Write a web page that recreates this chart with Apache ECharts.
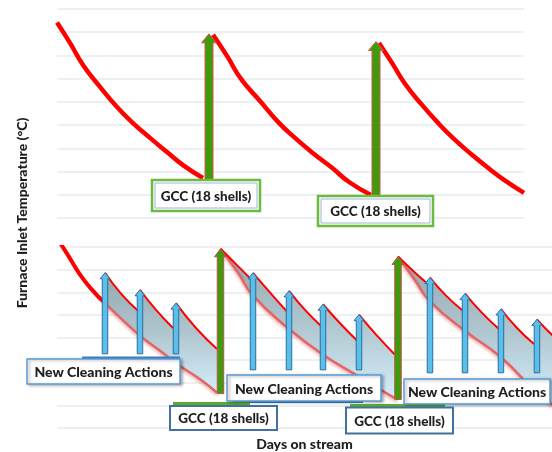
<!DOCTYPE html>
<html>
<head>
<meta charset="utf-8">
<style>html,body{margin:0;padding:0;background:#fff}#c{width:552px;height:452px}</style>
<script src="https://cdn.jsdelivr.net/npm/echarts@6/dist/echarts.min.js"></script>
</head>
<body>
<div id="c"></div>
<script>
// ---- Top panel (no cleaning, only GCC) ----
const topCurve1 = [[0,8.42],[2.78,7.54],[5.57,6.59],[9.21,5.65],[12.85,4.78],[16.27,4.09],[19.91,3.45],[23.55,2.84],[26.98,2.28],[31.26,1.72]];
const topCurve2 = [[33.40,7.89],[36.40,6.98],[39.40,5.99],[43.47,5.04],[47.32,4.14],[50.96,3.45],[55.03,2.76],[58.89,2.16],[62.53,1.55],[67.24,0.99]];
const topCurve3 = [[68.95,7.54],[71.73,6.68],[74.52,5.78],[78.16,4.87],[81.80,4.05],[85.22,3.36],[88.65,2.76],[92.29,2.16],[95.72,1.64],[100,1.08]];
const topGCC = [[32.55,1.64,7.93],[68.31,0.99,7.60]]; // [day, from, to]

// ---- Bottom panel (GCC + new cleaning actions) ----
const botStart = [[0,8.39],[2.14,7.71],[4.93,6.78],[7.71,6.06],[9.85,5.60]];
const upperA = [
  [[10.28,6.86],[13.70,5.94],[17.34,5.18]],
  [[17.77,6.11],[21.20,5.22],[24.84,4.42]],
  [[25.48,5.52],[29.76,4.42],[34.26,3.49]]
];
const upperB = [
  [[35.01,7.92],[38.54,7.20],[41.76,6.53]],
  [[41.97,6.86],[45.82,5.94],[49.25,5.14]],
  [[49.68,6.06],[53.10,5.22],[56.53,4.51]],
  [[56.96,5.47],[60.60,4.63],[64.24,3.87]],
  [[64.67,5.01],[68.52,4.08],[72.38,3.24]]
];
const upperC = [
  [[73.02,7.58],[76.45,6.91],[79.44,6.36]],
  [[79.87,6.65],[83.30,5.85],[86.94,5.18]],
  [[87.37,5.94],[91.01,5.09],[94.65,4.38]],
  [[95.07,5.26],[98.50,4.42],[102.14,3.71]],
  [[102.78,4.80],[104.50,4.42],[106.21,4.08]]
];
const lowerA = [[9.85,5.60],[13.49,4.88],[17.77,4.08],[22.06,3.41],[26.34,2.74],[30.62,2.15],[34.26,1.56]];
const lowerB = [[35.01,7.92],[38.76,6.86],[41.97,5.85],[49.89,4.34],[56.96,3.24],[64.24,2.32],[72.81,1.26]];
const lowerC = [[73.02,7.58],[76.66,6.53],[79.87,5.60],[87.37,4.29],[94.86,3.16],[102.78,1.56],[106.21,1.01]];
const cleanArrows = [
  [10.28,3.28,6.86],[17.77,3.28,6.11],[25.48,3.28,5.52],
  [41.97,2.57,6.86],[49.68,2.57,6.06],[56.96,2.57,5.47],[64.67,2.57,5.01],
  [79.87,2.44,6.65],[87.37,2.44,5.94],[95.07,2.44,5.26],[102.78,2.44,4.80]
];
const botGCC = [[35.01,1.52,7.92],[73.02,1.26,7.58]];

const yTitle = 'Furnace Inlet Temperature (°C)';
const xTitle = 'Days on stream';
const gccText = 'GCC (18 shells)';
const ncaText = 'New Cleaning Actions';

const FONT = 'Lato, "Liberation Sans", sans-serif';
const chart = echarts.init(document.getElementById('c'), null, {renderer:'canvas'});

const bands = [
  {upper: upperA, lower: lowerA},
  {upper: upperB, lower: lowerB},
  {upper: upperC, lower: lowerC}
];

function arrowRender(w, hw, hl, fill, stroke) {
  return function (params, api) {
    const b = api.coord([api.value(0), api.value(1)]);
    const t = api.coord([api.value(0), api.value(2)]);
    const cx = b[0];
    const pts = [[cx-w/2,b[1]],[cx-w/2,t[1]+hl],[cx-hw/2,t[1]+hl],[cx,t[1]],[cx+hw/2,t[1]+hl],[cx+w/2,t[1]+hl],[cx+w/2,b[1]]];
    return {type:'polygon', shape:{points:pts}, style:{fill:fill, stroke:stroke, lineWidth:1}};
  };
}

function segLine(segs) {
  const out = [];
  segs.forEach((s,i) => { if (i) out.push(null); s.forEach(p => out.push(p)); });
  return out;
}

const series = [];
[topCurve1, topCurve2, topCurve3].forEach(c => series.push({
  type:'line', xAxisIndex:0, yAxisIndex:0, data:c, smooth:true, symbol:'none', z:3,
  lineStyle:{color:'#ff0000', width:4.5}
}));
series.push({
  type:'custom', xAxisIndex:0, yAxisIndex:0, data:topGCC, encode:{x:0,y:[1,2]}, z:5,
  renderItem: arrowRender(8, 15, 9, '#3f9b0b', '#d9534f')
});
// bands
series.push({
  type:'custom', xAxisIndex:1, yAxisIndex:1, data:bands.map((b,i)=>[i]), z:1,
  renderItem: function(params, api) {
    const b = bands[params.dataIndex];
    const pts = [];
    b.upper.forEach(s => s.forEach(p => pts.push(api.coord(p))));
    b.lower.slice().reverse().forEach(p => pts.push(api.coord(p)));
    return {type:'polygon', shape:{points:pts}, style:{
      fill: new echarts.graphic.LinearGradient(0,0,0,1,[
        {offset:0,color:'#93a6ad'},{offset:0.5,color:'#b0c6cf'},{offset:1,color:'#d3eefb'}])
    }};
  }
});
series.push({
  type:'line', xAxisIndex:1, yAxisIndex:1, data:botStart, smooth:true, symbol:'none', z:3,
  lineStyle:{color:'#ff0000', width:4}
});
[lowerA, lowerB, lowerC].forEach(c => series.push({
  type:'line', xAxisIndex:1, yAxisIndex:1, data:c, smooth:true, symbol:'none', z:2,
  lineStyle:{color:'#e46565', width:2.5, shadowColor:'rgba(200,0,0,0.35)', shadowBlur:3, shadowOffsetY:2}
}));
[upperA, upperB, upperC].forEach(u => series.push({
  type:'line', xAxisIndex:1, yAxisIndex:1, data:segLine(u), smooth:true, symbol:'none', z:3,
  connectNulls:false, lineStyle:{color:'#ff0000', width:2}
}));
series.push({
  type:'custom', xAxisIndex:1, yAxisIndex:1, data:cleanArrows, encode:{x:0,y:[1,2]}, z:4,
  renderItem: arrowRender(5.5, 10, 6, '#5bbfec', '#2f6d9a')
});
series.push({
  type:'custom', xAxisIndex:1, yAxisIndex:1, data:botGCC, encode:{x:0,y:[1,2]}, z:5,
  renderItem: arrowRender(6.5, 12, 8, '#3f9b0b', '#c0504d')
});

function textEl(x, y, text, size) {
  return {type:'text', x:x, y:y, z:101, style:{text:text, font:'900 '+size+'px '+FONT, fill:'#1e1e1e', textAlign:'center', textVerticalAlign:'middle'}};
}
function topBox(x,y,w,h) {
  return [
    {type:'rect', z:100, shape:{x:x,y:y,width:w,height:h}, style:{fill:'#fff', stroke:'#6abb3e', lineWidth:2.5}},
    {type:'rect', z:100, shape:{x:x+3,y:y+3,width:w-6,height:h-6}, style:{fill:'none', stroke:'#9fb4d8', lineWidth:1}},
    textEl(x+w/2, y+h/2+1, gccText, 13.5)
  ];
}
function ncaBox(x,y,w,h,bar) {
  const els = [];
  if (bar) els.push({type:'rect', z:99, shape:bar, style:{fill:'#3a86c8'}});
  els.push({type:'rect', z:100, shape:{x:x,y:y,width:w,height:h}, style:{fill:'#fff', stroke:'#5b9bd5', lineWidth:1.5, shadowColor:'rgba(0,0,0,0.3)', shadowBlur:3, shadowOffsetX:2, shadowOffsetY:1}});
  els.push(textEl(x+w/2, y+h/2+1, ncaText, 14));
  return els;
}
function gccBox(x,y,w,h,bar) {
  return [
    {type:'rect', z:99, shape:bar, style:{fill:'#5aac2c'}},
    {type:'rect', z:100, shape:{x:x,y:y,width:w,height:h}, style:{fill:'#fff', stroke:'#41719c', lineWidth:2}},
    textEl(x+w/2, y+h/2+1, gccText, 13.5)
  ];
}

const graphics = [].concat(
  topBox(152,180,108,31),
  topBox(318,196,115,30),
  ncaBox(27,359,153,25,{x:82,y:356.5,width:98,height:3}),
  ncaBox(227,375,154,26,{x:233,y:400,width:130,height:3}),
  ncaBox(404,379,146,25,null),
  gccBox(170,406,107,24,{x:173,y:402,width:77,height:3}),
  gccBox(346,407.5,107,26,{x:350,y:404,width:95,height:3}),
  [{type:'text', x:22, y:213, rotation:Math.PI/2, z:101, style:{text:yTitle, font:'900 14px '+FONT, fill:'#1e1e1e', textAlign:'center', textVerticalAlign:'middle'}}]
);

const splitLine = {show:true, lineStyle:{color:'#e6ebee', width:1.5}};
chart.setOption({
  animation:false,
  grid:[
    {left:57, right:28, top:9, height:209},
    {left:57, right:0, top:247, height:190}
  ],
  xAxis:[
    {type:'value', gridIndex:0, min:0, max:100, show:true, axisLine:{show:false}, axisTick:{show:false}, axisLabel:{show:false}, splitLine:{show:false}},
    {type:'value', gridIndex:1, min:0, max:106, axisLine:{show:false}, axisTick:{show:false}, axisLabel:{show:false}, splitLine:{show:false},
     name:xTitle, nameLocation:'middle', nameGap:9, nameTextStyle:{fontFamily:FONT, fontWeight:900, fontSize:14, color:'#1e1e1e'}}
  ],
  yAxis:[
    {type:'value', gridIndex:0, min:0, max:9, interval:1, axisLine:{show:false}, axisTick:{show:false}, axisLabel:{show:false}, splitLine:splitLine},
    {type:'value', gridIndex:1, min:0, max:8, interval:1, axisLine:{show:false}, axisTick:{show:false}, axisLabel:{show:false}, splitLine:splitLine}
  ],
  series:series,
  graphic:graphics
});
</script>
</body>
</html>
